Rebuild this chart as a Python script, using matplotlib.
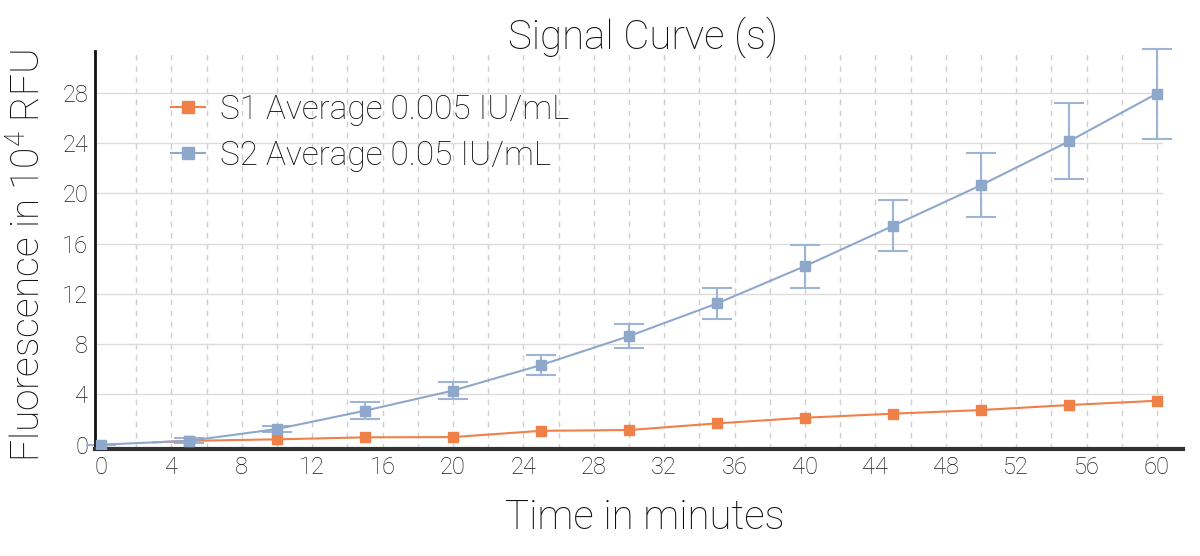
import matplotlib
matplotlib.use("Agg")
import matplotlib.pyplot as plt
import numpy as np
from matplotlib.lines import Line2D

# ---- data ----
time_s2 = [0, 5, 10, 15, 20, 25, 30, 35, 40, 45, 50, 55, 60]
s2_avg = [0.0, 0.3, 1.24, 2.7, 4.3, 6.33, 8.63, 11.23, 14.2, 17.4, 20.64, 24.13, 27.93]
s2_err = [0.0, 0.2, 0.25, 0.68, 0.66, 0.83, 0.95, 1.26, 1.71, 2.03, 2.55, 3.02, 3.58]

time_s1 = [3, 5, 10, 15, 20, 25, 30, 35, 40, 45, 50, 55, 60]
s1_avg = [0.18, 0.3, 0.42, 0.58, 0.6, 1.1, 1.16, 1.69, 2.14, 2.46, 2.75, 3.15, 3.49]

x_ticks = list(range(0, 61, 4))
y_ticks = list(range(0, 29, 4))
grid_x = list(range(2, 61, 2))

title = "Signal Curve (s)"
xlabel = "Time in minutes"
ylabel = "Fluorescence in 10$^4$ RFU"
label_s1 = "S1 Average 0.005 IU/mL"
label_s2 = "S2 Average 0.05 IU/mL"

ORANGE = "#EF8048"
BLUE = "#8EA8CC"
BLUE_ERR = "#9DB4D4"

plt.rcParams['font.family'] = ['Roboto', 'DejaVu Sans']
plt.rcParams['mathtext.fontset'] = 'custom'
plt.rcParams['mathtext.rm'] = 'Roboto:light'

fig = plt.figure(figsize=(12, 5.56), dpi=100)
ax = fig.add_axes([0.0792, 0.1924, 0.9066, 0.7164])

ax.set_xlim(-0.34, 61.48)
ax.set_ylim(-0.35, 31.34)

for gx in grid_x:
    ax.axvline(gx, color="#d0d0d0", lw=1.0, ls=(0, (4, 4)), zorder=0)
for gy in y_ticks[1:]:
    ax.axhline(gy, xmin=0, xmax=0.981, color="#dcdcdc", lw=1.0, zorder=0)

# S1
ax.plot(time_s1, s1_avg, color=ORANGE, lw=1.5, zorder=3)
ax.plot(time_s1[1:], s1_avg[1:], ls="none", marker="s", ms=7, color=ORANGE, zorder=4)

# S2
ax.errorbar(time_s2, s2_avg, yerr=s2_err, fmt="none", ecolor=BLUE_ERR,
            elinewidth=1.5, capsize=10.5, capthick=1.5, zorder=2, clip_on=False)
ax.plot(time_s2, s2_avg, color=BLUE, lw=1.5, zorder=5)
ax.plot(time_s2, s2_avg, ls="none", marker="s", ms=7, color=BLUE, zorder=6)

# legend
h1 = Line2D([], [], color=ORANGE, lw=1.5, marker="s", ms=9)
h2 = Line2D([], [], color=BLUE, lw=1.5, marker="s", ms=9)
leg = ax.legend([h1, h2], [label_s1, label_s2], loc="upper left",
                bbox_to_anchor=(0.058, 0.925), frameon=False,
                prop={'family': 'Roboto', 'weight': 'light', 'size': 24},
                handlelength=1.0, handletextpad=0.45, labelspacing=0.42,
                borderaxespad=0)
for t in leg.get_texts():
    t.set_color("#111111")

ax.set_xticks(x_ticks)
ax.set_yticks(y_ticks)
ax.tick_params(axis="both", length=0, labelsize=17, colors="#1a1a1a", pad=5)
for lab in ax.get_xticklabels() + ax.get_yticklabels():
    lab.set_fontweight("light")

for s in ["top", "right"]:
    ax.spines[s].set_visible(False)
ax.spines["left"].set_color("#111111")
ax.spines["left"].set_linewidth(2)
ax.spines["bottom"].set_color("#333333")
ax.spines["bottom"].set_linewidth(3)

fig.text(0.536, 0.933, title, ha="center", va="center", fontsize=29,
         fontweight="light", color="#111111")
fig.text(0.537, 0.068, xlabel, ha="center", va="center", fontsize=29,
         fontweight="light", color="#111111")
fig.text(0.024, 0.54, ylabel, ha="center", va="center", rotation=90,
         fontsize=28, fontweight="light", color="#111111")

fig.savefig("out.png", dpi=100)
